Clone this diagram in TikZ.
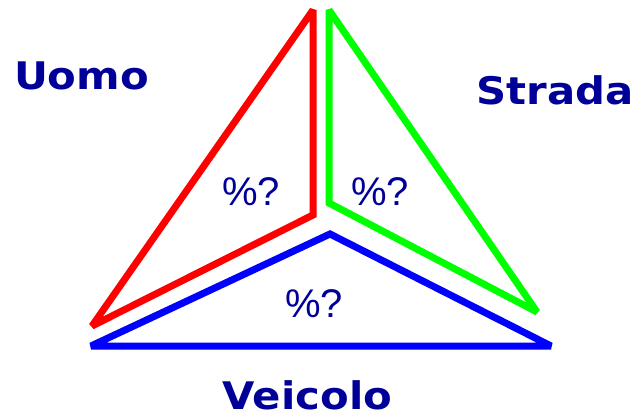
\documentclass[tikz,border=0pt]{standalone}
\usepackage{fontspec}
\setmainfont{DejaVu Sans}
\newfontfamily\sharefont{Liberation Sans}
\usepackage{xcolor}
\usepackage{tikz}

\definecolor{txtblue}{RGB}{0,0,153}

\tikzset{
  side/.style={line width=7pt, line join=miter, miter limit=3},
  factor/.style={text=txtblue, anchor=base, inner sep=0pt,
    font=\addfontfeature{FakeStretch=1.1}\fontsize{38}{44}\selectfont\bfseries},
  share/.style={text=txtblue, anchor=base, inner sep=0pt,
    font=\sharefont\fontsize{40}{46}\selectfont}
}

\begin{document}
\begin{tikzpicture}[x=1pt,y=-1pt]
\useasboundingbox (0,0) rectangle (636,417);

% the three triangles
\draw[side, red] (313,10) -- (313,215) -- (92,326) -- cycle;
\draw[side, green] (329,10) -- (329,203) -- (537,312) -- cycle;
\draw[side, blue] (330,234) -- (551,346) -- (91,346) -- cycle;

\node[factor] (uomo) at (81.5,90) {Uomo};
\node[factor] (strada) at (555,105) {Strada};
\node[factor] (veicolo) at (307.5,409) {Veicolo};

\node[share] (pu) at (251,205) {\%?};
\node[share] (ps) at (380,205) {\%?};
\node[share] (pv) at (314,317) {\%?};
\end{tikzpicture}
\end{document}
